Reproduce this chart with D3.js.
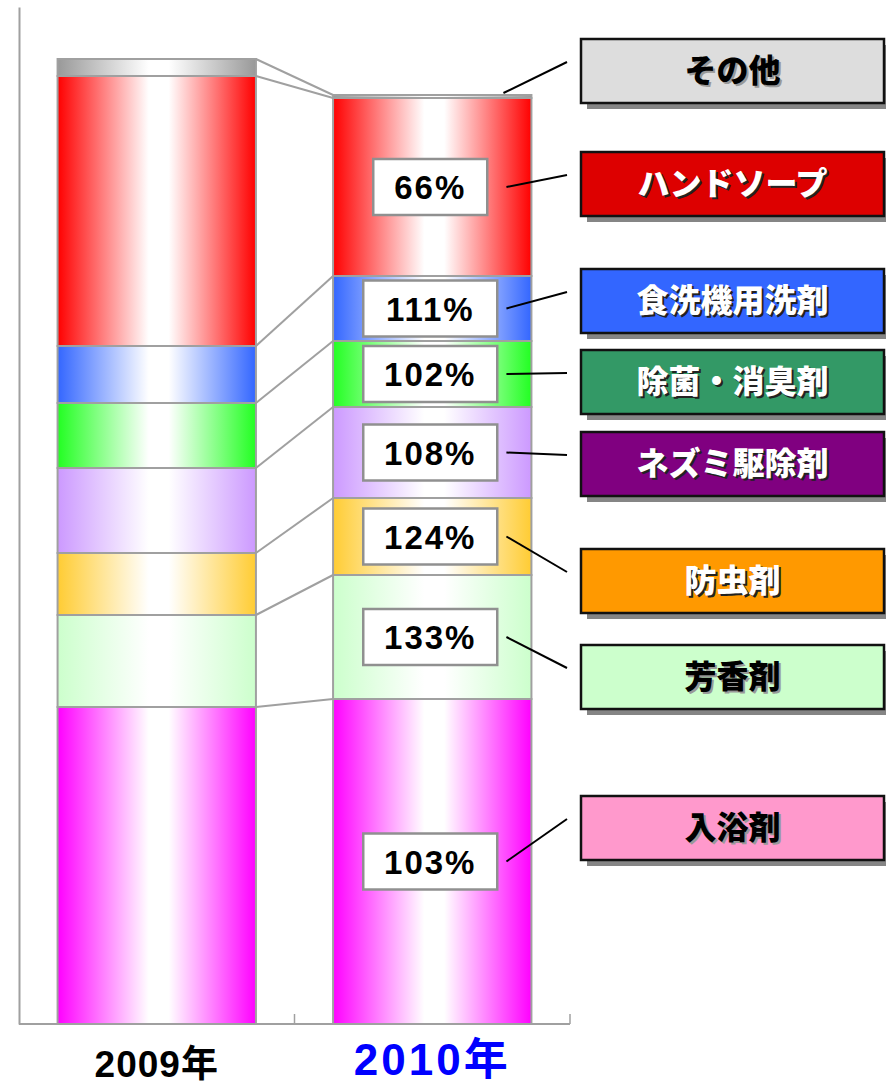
<!DOCTYPE html>
<html>
<head>
<meta charset="utf-8">
<script src="https://cdn.jsdelivr.net/npm/d3@7"></script>
<style>
  body { margin: 0; background: #fff; }
  svg { display: block; }
</style>
</head>
<body>
<div id="chart"></div>
<script>
////////////////////////////////////////////////////////////////////////
// Data (bottom to top of the stack)

let categories = ["入浴剤", "芳香剤", "防虫剤", "ネズミ駆除剤", "除菌・消臭剤", "食洗機用洗剤", "ハンドソープ", "その他"];
let years = ["2009年", "2010年"];
let values2009 = [317, 92, 62, 85, 65, 57, 270, 17];
let values2010 = [325, 124, 77, 91, 66, 65, 178, 3];
let growthLabels = ["103%", "133%", "124%", "108%", "102%", "111%", "66%", ""];

////////////////////////////////////////////////////////////////////////
// Styles

let barColors = ["#ff00ff", "#ccffcc", "#ffcc33", "#cc99ff", "#22ff22", "#3366ff", "#ff0000", "#999999"];
let legendFill = ["#ff99cc", "#ccffcc", "#ff9900", "#800080", "#339966", "#3366ff", "#dd0000", "#dddddd"];
let legendText = ["#000", "#000", "#fff", "#fff", "#fff", "#fff", "#fff", "#000"];
// legend box tops, laid out by hand as in the original slide
let legendTop = [796, 645, 549, 432, 350, 269, 152, 39];

let width = 886, height = 1085;
let font = "'Liberation Sans', 'Noto Sans CJK JP', sans-serif";
let jpFont = "'Noto Sans CJK JP', sans-serif";

let svg = d3.select("#chart")
  .append("svg")
  .attr("width", width)
  .attr("height", height);

let defs = svg.append("defs");

// horizontal "cylinder" gradient for each segment colour
barColors.forEach(function (c, i) {
  let g = defs.append("linearGradient")
    .attr("id", "grad" + i)
    .attr("x1", "0%").attr("x2", "100%")
    .attr("y1", "0%").attr("y2", "0%");
  g.append("stop").attr("offset", "0%").attr("stop-color", c);
  g.append("stop").attr("offset", "46%").attr("stop-color", "#fff");
  g.append("stop").attr("offset", "56%").attr("stop-color", "#fff");
  g.append("stop").attr("offset", "100%").attr("stop-color", c);
});

////////////////////////////////////////////////////////////////////////
// Scales

let xScale = d3.scaleBand().domain(years).range([19, 570]).padding(0);
let yScale = d3.scaleLinear().domain([0, 1017]).range([1024, 7]);
let barW = xScale.bandwidth() * 0.72;

let rows = years.map(function (yr, j) {
  let r = { year: yr };
  let vals = j == 0 ? values2009 : values2010;
  categories.forEach((c, i) => r[c] = vals[i]);
  return r;
});
let series = d3.stack().keys(categories)(rows);

let barLeft = yr => xScale(yr) + (xScale.bandwidth() - barW) / 2;

////////////////////////////////////////////////////////////////////////
// Axes

svg.append("g")
  .attr("transform", "translate(19,0)")
  .call(d3.axisLeft(yScale).ticks(0).tickSizeOuter(0))
  .call(g => g.select(".domain").attr("stroke", "#a0a0a0").attr("stroke-width", 2));

let xAxis = svg.append("g").attr("transform", "translate(0,1024)");
xAxis.append("line")
  .attr("x1", xScale.range()[0]).attr("x2", xScale.range()[1])
  .attr("stroke", "#a0a0a0").attr("stroke-width", 2);
xAxis.selectAll(".tick")
  .data(years.map(yr => xScale(yr) + xScale.bandwidth()))
  .enter()
  .append("line")
  .attr("x1", d => d).attr("x2", d => d)
  .attr("y1", 0).attr("y2", -10)
  .attr("stroke", "#a0a0a0").attr("stroke-width", 1.5);

// year labels
svg.append("g")
  .selectAll("text")
  .data(years)
  .enter()
  .append("text")
  .attr("x", d => xScale(d) + xScale.bandwidth() / 2)
  .attr("y", (d, i) => i == 0 ? 1077 : 1075)
  .attr("text-anchor", "middle")
  .attr("font-family", font)
  .attr("font-weight", "bold")
  .attr("font-size", (d, i) => i == 0 ? 37 : 44)
  .attr("letter-spacing", (d, i) => i == 0 ? 1 : 3)
  .attr("fill", (d, i) => i == 0 ? "#000" : "#0000ff")
  .text(d => d);

////////////////////////////////////////////////////////////////////////
// Connector lines between the two bars

let tops2009 = d3.cumsum(values2009);
let tops2010 = d3.cumsum(values2010);
svg.append("g")
  .selectAll("line")
  .data(d3.range(categories.length))
  .enter()
  .append("line")
  .attr("x1", barLeft(years[0]) + barW)
  .attr("y1", i => yScale(tops2009[i]))
  .attr("x2", barLeft(years[1]))
  .attr("y2", i => yScale(tops2010[i]))
  .attr("stroke", "#a0a0a0")
  .attr("stroke-width", 2);

////////////////////////////////////////////////////////////////////////
// Stacked bars

svg.append("g")
  .selectAll("g")
  .data(series)
  .enter()
  .append("g")
  .attr("fill", (d, i) => "url(#grad" + i + ")")
  .selectAll("rect")
  .data(d => d)
  .enter()
  .append("rect")
  .attr("x", d => barLeft(d.data.year))
  .attr("y", d => yScale(d[1]))
  .attr("width", barW)
  .attr("height", d => yScale(d[0]) - yScale(d[1]))
  .attr("stroke", "#a0a0a0")
  .attr("stroke-width", 2);

////////////////////////////////////////////////////////////////////////
// Growth labels, leader lines and legend boxes

let x2010 = barLeft(years[1]);
let cx2010 = x2010 + barW / 2 - 2;
let segMid = i => yScale((series[i][1][0] + series[i][1][1]) / 2);

let legendX = 581, legendW = 303, legendH = 64;

// leader lines
svg.append("g")
  .selectAll("line")
  .data(d3.range(categories.length))
  .enter()
  .append("line")
  .attr("x1", i => i == categories.length - 1 ? x2010 + barW - 28 : x2010 + barW - 25)
  .attr("y1", i => i == categories.length - 1 ? yScale(series[i][1][1]) - 2 : segMid(i))
  .attr("x2", legendX - 14)
  .attr("y2", i => legendTop[i] + legendH / 2 - 9)
  .attr("stroke", "#000")
  .attr("stroke-width", 2);

// percentage boxes
let pct = svg.append("g")
  .selectAll("g")
  .data(d3.range(categories.length).filter(i => growthLabels[i] != ""))
  .enter()
  .append("g")
  .attr("transform", i => `translate(${cx2010},${segMid(i)})`);

pct.append("rect")
  .attr("x", i => growthLabels[i].length == 3 ? -57 : -67)
  .attr("y", -28)
  .attr("width", i => growthLabels[i].length == 3 ? 114 : 134)
  .attr("height", 56)
  .attr("fill", "#fff")
  .attr("stroke", "#909090")
  .attr("stroke-width", 2.5);

pct.append("text")
  .attr("text-anchor", "middle")
  .attr("y", 12)
  .attr("font-family", font)
  .attr("font-weight", "bold")
  .attr("font-size", 33)
  .attr("letter-spacing", 2)
  .text(i => growthLabels[i]);

// legend boxes
let leg = svg.append("g")
  .selectAll("g")
  .data(d3.range(categories.length))
  .enter()
  .append("g")
  .attr("transform", i => `translate(${legendX},${legendTop[i]})`);

leg.append("rect")
  .attr("x", 6).attr("y", 6)
  .attr("width", legendW).attr("height", legendH)
  .attr("fill", "#858585");

leg.append("rect")
  .attr("width", legendW).attr("height", legendH)
  .attr("fill", i => legendFill[i])
  .attr("stroke", "#111")
  .attr("stroke-width", 2.5);

// text shadow
leg.append("text")
  .attr("x", legendW / 2 + 2)
  .attr("y", legendH / 2 + 13)
  .attr("text-anchor", "middle")
  .attr("font-family", jpFont)
  .attr("font-weight", 900)
  .attr("font-size", 32)
  .attr("fill", i => legendText[i] == "#fff" ? "#222" : "#999")
  .text(i => categories[i]);

leg.append("text")
  .attr("x", legendW / 2)
  .attr("y", legendH / 2 + 11)
  .attr("text-anchor", "middle")
  .attr("font-family", jpFont)
  .attr("font-weight", 900)
  .attr("font-size", 32)
  .attr("fill", i => legendText[i])
  .text(i => categories[i]);
</script>
</body>
</html>
